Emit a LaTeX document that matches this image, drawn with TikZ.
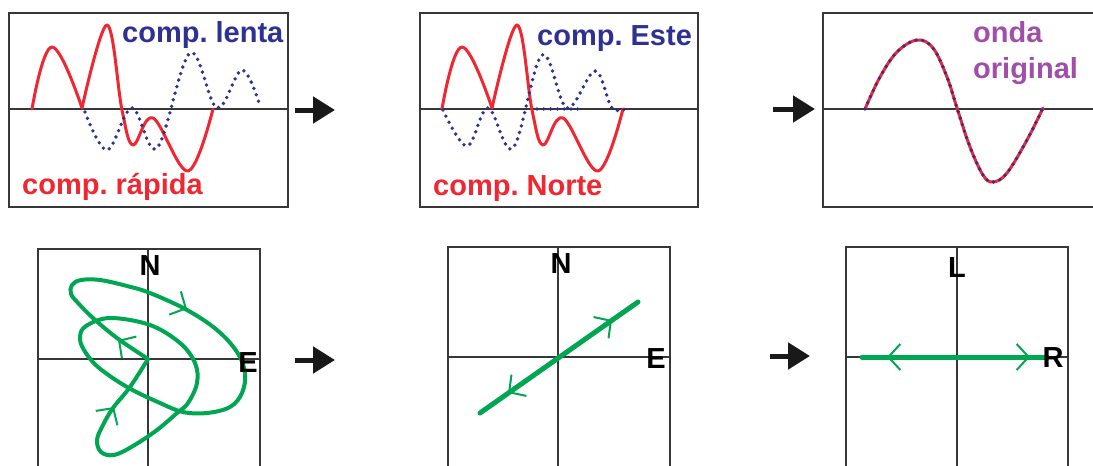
\documentclass[tikz,border=0pt]{standalone}
\usepackage{fontspec}
\setsansfont{Liberation Sans}
\usetikzlibrary{arrows.meta}
\frenchspacing

\definecolor{fastred}{RGB}{240,38,48}
\definecolor{slowblue}{RGB}{46,49,146}
\definecolor{pathgreen}{RGB}{0,166,81}
\definecolor{labpurple}{RGB}{160,78,168}
\definecolor{framegray}{RGB}{55,55,55}

\tikzset{
  frame/.style={draw=framegray, line width=2pt},
  axis/.style={draw=framegray, line width=1.4pt},
  fast/.style={draw=fastred, line width=3pt, line cap=round, line join=round},
  slow/.style={draw=slowblue, line width=3.8pt, line cap=round, dash pattern=on 0pt off 6.8pt},
  motion/.style={draw=pathgreen, line width=4pt, line cap=round, line join=round},
  chev/.style={draw=pathgreen, line width=2pt, -{Straight Barb[length=12pt,width=26pt]}},
  stepper/.style={draw=black!90, line width=5pt, -{Triangle[length=22pt,width=26pt]}},
  lbl/.style={font=\sffamily\bfseries\fontsize{29}{34}\selectfont, inner sep=0pt, anchor=base west},
  axlbl/.style={font=\sffamily\bfseries\fontsize{29}{34}\selectfont, inner sep=0pt, anchor=base},
}

\begin{document}
\begin{tikzpicture}[x=1pt,y=-1pt]
  \useasboundingbox (0,0) rectangle (1093,466);

  % Frames and axes, top row
  \draw[frame] (9,13) rectangle (288,207);
  \draw[axis] (9,109) -- (288,109);
  \draw[frame] (420,13) rectangle (698,207);
  \draw[axis] (420,109) -- (698,109);
  \draw[frame] (1093,13) -- (823,13) -- (823,207) -- (1093,207);
  \draw[axis] (823,109) -- (1093,109);

  % Frames and axes, bottom row
  \draw[frame] (38,466) -- (38,249) -- (260,249) -- (260,466);
  \draw[axis] (148,249) -- (148,466);
  \draw[axis] (38,359) -- (260,359);
  \draw[frame] (448,466) -- (448,247) -- (670,247) -- (670,466);
  \draw[axis] (558,247) -- (558,466);
  \draw[axis] (448,357) -- (670,357);
  \draw[frame] (846,466) -- (846,247) -- (1068,247) -- (1068,466);
  \draw[axis] (957,247) -- (957,466);
  \draw[axis] (846,357) -- (1068,357);

  % Split waves
  \foreach \dx in {0,410} {
    \begin{scope}[xshift=\dx]
      \draw[fast] plot[smooth, tension=0.7] coordinates {(32,109) (52,47) (82,108)};
      \draw[fast] plot[smooth, tension=0.6] coordinates {(82,108) (107,25) (122,110) (133,145) (153,118) (188,171) (213,109)};
    \end{scope}
  }
  \draw[slow] plot[smooth, tension=0.6] coordinates {(85,112) (107,150) (132,108) (157,148) (190,53) (217,108) (242,70) (260,106)};
  \draw[slow] plot[smooth, tension=0.6] coordinates {(443,110) (467,146) (488,108) (513,148) (542,55) (567,108) (595,71) (612,108) (627,108)};
  \draw[slow] (537,109) -- (583,109);

  % Original wave
  \draw[fast] plot[smooth, tension=0.6] coordinates {(865,109) (880,77) (897,52) (917,40) (933,48) (947,77) (957,108) (970,147) (983,175) (993,182) (1007,173) (1027,140) (1043,108)};
  \draw[slow] plot[smooth, tension=0.6] coordinates {(865,109) (880,77) (897,52) (917,40) (933,48) (947,77) (957,108) (970,147) (983,175) (993,182) (1007,173) (1027,140) (1043,108)};

  % Labels
  \node[lbl, text=slowblue] (lenta) at (122,42) {comp. lenta};
  \node[lbl, text=fastred] (rapida) at (22,194) {comp. rápida};
  \node[lbl, text=slowblue] (este) at (537,45) {comp. Este};
  \node[lbl, text=fastred] (norte) at (433,195) {comp. Norte};
  \node[lbl, text=labpurple] (onda) at (973,42) {onda};
  \node[lbl, text=labpurple] (orig) at (973,78) {original};

  % Particle motion
  \draw[motion] plot[smooth, tension=0.6] coordinates {(148,359) (117,338) (93,318) (79,304) (71,294) (72,285) (81,280) (100,280) (127,286) (150,293) (187,310) (217,330) (237,352) (245,373) (242,393) (230,407) (207,413) (183,412) (160,403) (127,387) (98,367) (84,350) (80,337) (86,326) (110,318) (150,325) (180,343) (195,363) (197,383) (188,403) (177,413) (157,430) (133,446) (114,455) (101,452) (97,440) (103,425) (113,408) (130,387) (148,359)};
  \draw[chev] (124,344) -- (118,340);
  \draw[chev] (180,305.5) -- (187,309);
  \draw[chev] (110,413) -- (114,407);

  \coordinate (ne1) at (480,413);
  \coordinate (ne2) at (638,302);
  \draw[motion, line width=5pt] (ne1) -- (ne2);
  \draw[chev] (607,323.5) -- (612,320);
  \draw[chev] (513,389.5) -- (508,393);

  \coordinate (lr1) at (862,357);
  \coordinate (lr2) at (1047,357);
  \draw[motion, line width=5pt] (lr1) -- (lr2);
  \draw[chev] (892,357) -- (887,357);
  \draw[chev] (1025,357) -- (1030,357);

  % Axis letters
  \node[axlbl] (n1) at (150,275) {N};
  \node[axlbl] (e1) at (248,372) {E};
  \node[axlbl] (n2) at (561,273) {N};
  \node[axlbl] (e2) at (656,368) {E};
  \node[axlbl] (l3) at (957,277) {L};
  \node[axlbl] (r3) at (1053,367) {R};

  % Steps
  \coordinate (s1a) at (295,110);
  \coordinate (s1b) at (335,110);
  \coordinate (s2a) at (773,109);
  \coordinate (s2b) at (815,109);
  \coordinate (s3a) at (295,360);
  \coordinate (s3b) at (335,360);
  \coordinate (s4a) at (770,356);
  \coordinate (s4b) at (810,356);
  \draw[stepper] (s1a) -- (s1b);
  \draw[stepper] (s2a) -- (s2b);
  \draw[stepper] (s3a) -- (s3b);
  \draw[stepper] (s4a) -- (s4b);
\end{tikzpicture}
\end{document}
